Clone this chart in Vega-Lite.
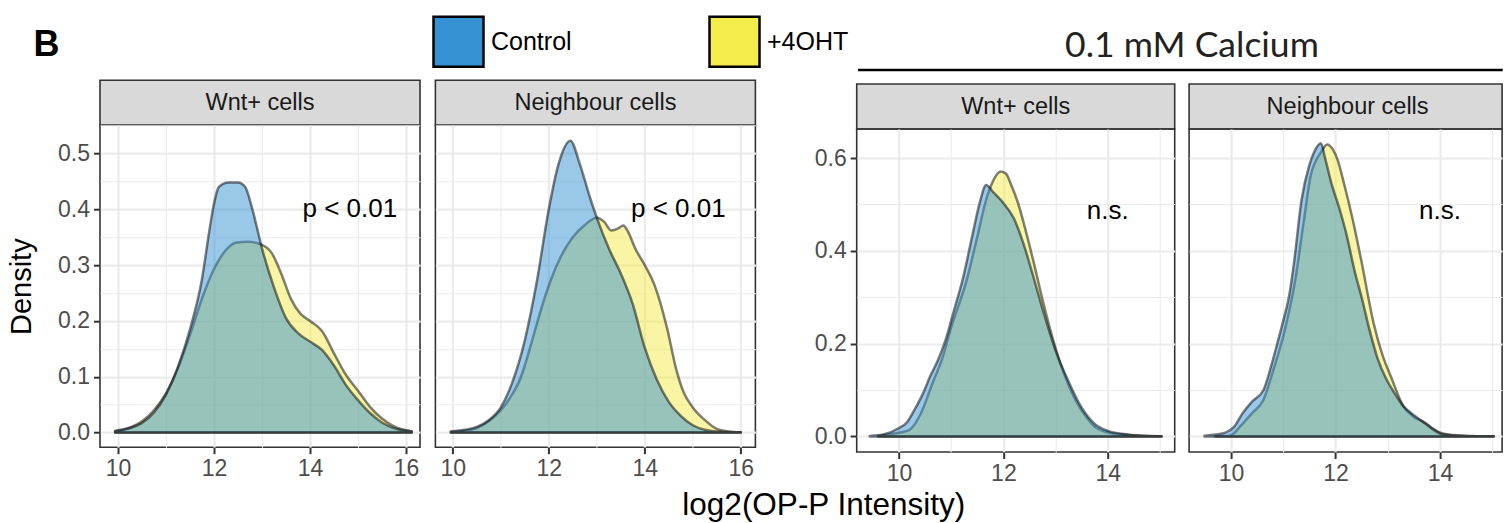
{
"$schema":"https://vega.github.io/schema/vega-lite/v6.json",
"autosize":{"type":"pad"},
"padding":{"left":6,"top":15,"right":0,"bottom":0},
"background":"white",
"title":{"text":"log2(OP-P Intensity)","orient":"bottom","anchor":"middle","frame":"bounds","dx":68.5,"offset":4,"fontSize":31.5,"fontWeight":"normal","font":"Liberation Sans","color":"black"},
"datasets":{
"dens":[
{"panel":"p1","cond":"Control","x":9.94,"y":0.003},{"panel":"p1","cond":"Control","x":10.25,"y":0.008},{"panel":"p1","cond":"Control","x":10.5,"y":0.017},{"panel":"p1","cond":"Control","x":10.75,"y":0.036},{"panel":"p1","cond":"Control","x":11.0,"y":0.068},{"panel":"p1","cond":"Control","x":11.25,"y":0.118},{"panel":"p1","cond":"Control","x":11.5,"y":0.185},{"panel":"p1","cond":"Control","x":11.75,"y":0.275},{"panel":"p1","cond":"Control","x":11.9,"y":0.36},{"panel":"p1","cond":"Control","x":12.0,"y":0.41},{"panel":"p1","cond":"Control","x":12.1,"y":0.44},{"panel":"p1","cond":"Control","x":12.3,"y":0.448},{"panel":"p1","cond":"Control","x":12.5,"y":0.448},{"panel":"p1","cond":"Control","x":12.65,"y":0.44},{"panel":"p1","cond":"Control","x":12.8,"y":0.4},{"panel":"p1","cond":"Control","x":13.0,"y":0.33},{"panel":"p1","cond":"Control","x":13.25,"y":0.26},{"panel":"p1","cond":"Control","x":13.5,"y":0.205},{"panel":"p1","cond":"Control","x":13.75,"y":0.178},{"panel":"p1","cond":"Control","x":14.0,"y":0.163},{"panel":"p1","cond":"Control","x":14.25,"y":0.148},{"panel":"p1","cond":"Control","x":14.5,"y":0.12},{"panel":"p1","cond":"Control","x":14.75,"y":0.085},{"panel":"p1","cond":"Control","x":15.0,"y":0.058},{"panel":"p1","cond":"Control","x":15.25,"y":0.035},{"panel":"p1","cond":"Control","x":15.5,"y":0.018},{"panel":"p1","cond":"Control","x":15.75,"y":0.008},{"panel":"p1","cond":"Control","x":16.0,"y":0.003},{"panel":"p1","cond":"Control","x":16.12,"y":0.002},
{"panel":"p1","cond":"+4OHT","x":9.94,"y":0.002},{"panel":"p1","cond":"+4OHT","x":10.25,"y":0.009},{"panel":"p1","cond":"+4OHT","x":10.5,"y":0.02},{"panel":"p1","cond":"+4OHT","x":10.75,"y":0.04},{"panel":"p1","cond":"+4OHT","x":11.0,"y":0.07},{"panel":"p1","cond":"+4OHT","x":11.25,"y":0.115},{"panel":"p1","cond":"+4OHT","x":11.5,"y":0.175},{"panel":"p1","cond":"+4OHT","x":11.75,"y":0.24},{"panel":"p1","cond":"+4OHT","x":12.0,"y":0.293},{"panel":"p1","cond":"+4OHT","x":12.25,"y":0.327},{"panel":"p1","cond":"+4OHT","x":12.45,"y":0.34},{"panel":"p1","cond":"+4OHT","x":12.7,"y":0.342},{"panel":"p1","cond":"+4OHT","x":12.95,"y":0.338},{"panel":"p1","cond":"+4OHT","x":13.2,"y":0.322},{"panel":"p1","cond":"+4OHT","x":13.4,"y":0.285},{"panel":"p1","cond":"+4OHT","x":13.6,"y":0.24},{"panel":"p1","cond":"+4OHT","x":13.8,"y":0.213},{"panel":"p1","cond":"+4OHT","x":14.0,"y":0.2},{"panel":"p1","cond":"+4OHT","x":14.25,"y":0.182},{"panel":"p1","cond":"+4OHT","x":14.5,"y":0.142},{"panel":"p1","cond":"+4OHT","x":14.75,"y":0.103},{"panel":"p1","cond":"+4OHT","x":15.0,"y":0.075},{"panel":"p1","cond":"+4OHT","x":15.25,"y":0.046},{"panel":"p1","cond":"+4OHT","x":15.5,"y":0.025},{"panel":"p1","cond":"+4OHT","x":15.75,"y":0.011},{"panel":"p1","cond":"+4OHT","x":16.0,"y":0.004},{"panel":"p1","cond":"+4OHT","x":16.12,"y":0.002},
{"panel":"p2","cond":"Control","x":9.96,"y":0.002},{"panel":"p2","cond":"Control","x":10.25,"y":0.005},{"panel":"p2","cond":"Control","x":10.5,"y":0.01},{"panel":"p2","cond":"Control","x":10.75,"y":0.022},{"panel":"p2","cond":"Control","x":11.0,"y":0.045},{"panel":"p2","cond":"Control","x":11.25,"y":0.092},{"panel":"p2","cond":"Control","x":11.5,"y":0.165},{"panel":"p2","cond":"Control","x":11.75,"y":0.27},{"panel":"p2","cond":"Control","x":12.0,"y":0.4},{"panel":"p2","cond":"Control","x":12.2,"y":0.48},{"panel":"p2","cond":"Control","x":12.45,"y":0.523},{"panel":"p2","cond":"Control","x":12.65,"y":0.48},{"panel":"p2","cond":"Control","x":12.87,"y":0.418},{"panel":"p2","cond":"Control","x":13.0,"y":0.385},{"panel":"p2","cond":"Control","x":13.25,"y":0.33},{"panel":"p2","cond":"Control","x":13.5,"y":0.285},{"panel":"p2","cond":"Control","x":13.75,"y":0.23},{"panel":"p2","cond":"Control","x":14.0,"y":0.152},{"panel":"p2","cond":"Control","x":14.25,"y":0.095},{"panel":"p2","cond":"Control","x":14.5,"y":0.055},{"panel":"p2","cond":"Control","x":14.75,"y":0.03},{"panel":"p2","cond":"Control","x":15.0,"y":0.013},{"panel":"p2","cond":"Control","x":15.25,"y":0.005},{"panel":"p2","cond":"Control","x":15.5,"y":0.002},{"panel":"p2","cond":"Control","x":16.0,"y":0.0005},
{"panel":"p2","cond":"+4OHT","x":9.96,"y":0.001},{"panel":"p2","cond":"+4OHT","x":10.25,"y":0.003},{"panel":"p2","cond":"+4OHT","x":10.5,"y":0.008},{"panel":"p2","cond":"+4OHT","x":10.75,"y":0.02},{"panel":"p2","cond":"+4OHT","x":11.0,"y":0.04},{"panel":"p2","cond":"+4OHT","x":11.25,"y":0.07},{"panel":"p2","cond":"+4OHT","x":11.4,"y":0.095},{"panel":"p2","cond":"+4OHT","x":11.5,"y":0.12},{"panel":"p2","cond":"+4OHT","x":11.68,"y":0.173},{"panel":"p2","cond":"+4OHT","x":11.82,"y":0.215},{"panel":"p2","cond":"+4OHT","x":12.05,"y":0.275},{"panel":"p2","cond":"+4OHT","x":12.25,"y":0.315},{"panel":"p2","cond":"+4OHT","x":12.5,"y":0.35},{"panel":"p2","cond":"+4OHT","x":12.75,"y":0.372},{"panel":"p2","cond":"+4OHT","x":13.0,"y":0.385},{"panel":"p2","cond":"+4OHT","x":13.15,"y":0.378},{"panel":"p2","cond":"+4OHT","x":13.3,"y":0.362},{"panel":"p2","cond":"+4OHT","x":13.45,"y":0.366},{"panel":"p2","cond":"+4OHT","x":13.55,"y":0.371},{"panel":"p2","cond":"+4OHT","x":13.65,"y":0.36},{"panel":"p2","cond":"+4OHT","x":13.8,"y":0.33},{"panel":"p2","cond":"+4OHT","x":14.0,"y":0.3},{"panel":"p2","cond":"+4OHT","x":14.2,"y":0.265},{"panel":"p2","cond":"+4OHT","x":14.47,"y":0.185},{"panel":"p2","cond":"+4OHT","x":14.65,"y":0.115},{"panel":"p2","cond":"+4OHT","x":14.81,"y":0.072},{"panel":"p2","cond":"+4OHT","x":15.0,"y":0.045},{"panel":"p2","cond":"+4OHT","x":15.23,"y":0.024},{"panel":"p2","cond":"+4OHT","x":15.51,"y":0.006},{"panel":"p2","cond":"+4OHT","x":15.75,"y":0.002},{"panel":"p2","cond":"+4OHT","x":16.0,"y":0.0005},
{"panel":"p3","cond":"Control","x":9.44,"y":0.001},{"panel":"p3","cond":"Control","x":9.7,"y":0.004},{"panel":"p3","cond":"Control","x":10.0,"y":0.018},{"panel":"p3","cond":"Control","x":10.15,"y":0.03},{"panel":"p3","cond":"Control","x":10.3,"y":0.058},{"panel":"p3","cond":"Control","x":10.45,"y":0.09},{"panel":"p3","cond":"Control","x":10.6,"y":0.13},{"panel":"p3","cond":"Control","x":10.75,"y":0.165},{"panel":"p3","cond":"Control","x":10.9,"y":0.21},{"panel":"p3","cond":"Control","x":11.05,"y":0.27},{"panel":"p3","cond":"Control","x":11.22,"y":0.338},{"panel":"p3","cond":"Control","x":11.4,"y":0.43},{"panel":"p3","cond":"Control","x":11.55,"y":0.505},{"panel":"p3","cond":"Control","x":11.67,"y":0.542},{"panel":"p3","cond":"Control","x":11.8,"y":0.527},{"panel":"p3","cond":"Control","x":12.0,"y":0.503},{"panel":"p3","cond":"Control","x":12.2,"y":0.47},{"panel":"p3","cond":"Control","x":12.4,"y":0.41},{"panel":"p3","cond":"Control","x":12.56,"y":0.35},{"panel":"p3","cond":"Control","x":12.75,"y":0.275},{"panel":"p3","cond":"Control","x":13.0,"y":0.185},{"panel":"p3","cond":"Control","x":13.25,"y":0.118},{"panel":"p3","cond":"Control","x":13.5,"y":0.062},{"panel":"p3","cond":"Control","x":13.75,"y":0.027},{"panel":"p3","cond":"Control","x":14.0,"y":0.012},{"panel":"p3","cond":"Control","x":14.25,"y":0.006},{"panel":"p3","cond":"Control","x":14.5,"y":0.002},{"panel":"p3","cond":"Control","x":15.03,"y":0.0003},
{"panel":"p3","cond":"+4OHT","x":9.6,"y":0.001},{"panel":"p3","cond":"+4OHT","x":9.8,"y":0.004},{"panel":"p3","cond":"+4OHT","x":10.0,"y":0.008},{"panel":"p3","cond":"+4OHT","x":10.2,"y":0.014},{"panel":"p3","cond":"+4OHT","x":10.4,"y":0.045},{"panel":"p3","cond":"+4OHT","x":10.66,"y":0.12},{"panel":"p3","cond":"+4OHT","x":10.82,"y":0.165},{"panel":"p3","cond":"+4OHT","x":11.0,"y":0.235},{"panel":"p3","cond":"+4OHT","x":11.3,"y":0.338},{"panel":"p3","cond":"+4OHT","x":11.5,"y":0.43},{"panel":"p3","cond":"+4OHT","x":11.67,"y":0.51},{"panel":"p3","cond":"+4OHT","x":11.8,"y":0.55},{"panel":"p3","cond":"+4OHT","x":11.95,"y":0.571},{"panel":"p3","cond":"+4OHT","x":12.05,"y":0.566},{"panel":"p3","cond":"+4OHT","x":12.16,"y":0.539},{"panel":"p3","cond":"+4OHT","x":12.28,"y":0.503},{"panel":"p3","cond":"+4OHT","x":12.44,"y":0.438},{"panel":"p3","cond":"+4OHT","x":12.6,"y":0.366},{"panel":"p3","cond":"+4OHT","x":12.76,"y":0.29},{"panel":"p3","cond":"+4OHT","x":13.0,"y":0.19},{"panel":"p3","cond":"+4OHT","x":13.09,"y":0.158},{"panel":"p3","cond":"+4OHT","x":13.25,"y":0.11},{"panel":"p3","cond":"+4OHT","x":13.41,"y":0.072},{"panel":"p3","cond":"+4OHT","x":13.6,"y":0.04},{"panel":"p3","cond":"+4OHT","x":13.74,"y":0.022},{"panel":"p3","cond":"+4OHT","x":14.06,"y":0.007},{"panel":"p3","cond":"+4OHT","x":14.3,"y":0.004},{"panel":"p3","cond":"+4OHT","x":14.6,"y":0.002},{"panel":"p3","cond":"+4OHT","x":15.03,"y":0.0003},
{"panel":"p4","cond":"Control","x":9.49,"y":0.0015},{"panel":"p4","cond":"Control","x":9.7,"y":0.004},{"panel":"p4","cond":"Control","x":9.89,"y":0.008},{"panel":"p4","cond":"Control","x":10.05,"y":0.02},{"panel":"p4","cond":"Control","x":10.22,"y":0.05},{"panel":"p4","cond":"Control","x":10.4,"y":0.075},{"panel":"p4","cond":"Control","x":10.62,"y":0.1},{"panel":"p4","cond":"Control","x":10.75,"y":0.145},{"panel":"p4","cond":"Control","x":10.87,"y":0.194},{"panel":"p4","cond":"Control","x":11.0,"y":0.25},{"panel":"p4","cond":"Control","x":11.11,"y":0.302},{"panel":"p4","cond":"Control","x":11.2,"y":0.37},{"panel":"p4","cond":"Control","x":11.35,"y":0.51},{"panel":"p4","cond":"Control","x":11.5,"y":0.585},{"panel":"p4","cond":"Control","x":11.6,"y":0.615},{"panel":"p4","cond":"Control","x":11.72,"y":0.632},{"panel":"p4","cond":"Control","x":11.8,"y":0.6},{"panel":"p4","cond":"Control","x":11.92,"y":0.546},{"panel":"p4","cond":"Control","x":12.08,"y":0.489},{"panel":"p4","cond":"Control","x":12.2,"y":0.44},{"panel":"p4","cond":"Control","x":12.38,"y":0.35},{"panel":"p4","cond":"Control","x":12.5,"y":0.3},{"panel":"p4","cond":"Control","x":12.65,"y":0.23},{"panel":"p4","cond":"Control","x":12.8,"y":0.17},{"panel":"p4","cond":"Control","x":12.98,"y":0.122},{"panel":"p4","cond":"Control","x":13.15,"y":0.09},{"panel":"p4","cond":"Control","x":13.3,"y":0.065},{"panel":"p4","cond":"Control","x":13.45,"y":0.05},{"panel":"p4","cond":"Control","x":13.62,"y":0.036},{"panel":"p4","cond":"Control","x":13.75,"y":0.025},{"panel":"p4","cond":"Control","x":13.87,"y":0.015},{"panel":"p4","cond":"Control","x":14.03,"y":0.005},{"panel":"p4","cond":"Control","x":14.25,"y":0.002},{"panel":"p4","cond":"Control","x":14.5,"y":0.001},{"panel":"p4","cond":"Control","x":15.03,"y":0.0002},
{"panel":"p4","cond":"+4OHT","x":9.7,"y":0.0005},{"panel":"p4","cond":"+4OHT","x":9.97,"y":0.0015},{"panel":"p4","cond":"+4OHT","x":10.2,"y":0.025},{"panel":"p4","cond":"+4OHT","x":10.4,"y":0.05},{"panel":"p4","cond":"+4OHT","x":10.62,"y":0.079},{"panel":"p4","cond":"+4OHT","x":10.8,"y":0.14},{"panel":"p4","cond":"+4OHT","x":11.03,"y":0.23},{"panel":"p4","cond":"+4OHT","x":11.23,"y":0.338},{"panel":"p4","cond":"+4OHT","x":11.4,"y":0.47},{"panel":"p4","cond":"+4OHT","x":11.52,"y":0.56},{"panel":"p4","cond":"+4OHT","x":11.72,"y":0.612},{"panel":"p4","cond":"+4OHT","x":11.84,"y":0.629},{"panel":"p4","cond":"+4OHT","x":11.95,"y":0.618},{"panel":"p4","cond":"+4OHT","x":12.04,"y":0.596},{"panel":"p4","cond":"+4OHT","x":12.16,"y":0.546},{"panel":"p4","cond":"+4OHT","x":12.33,"y":0.467},{"panel":"p4","cond":"+4OHT","x":12.49,"y":0.381},{"panel":"p4","cond":"+4OHT","x":12.73,"y":0.244},{"panel":"p4","cond":"+4OHT","x":12.9,"y":0.175},{"panel":"p4","cond":"+4OHT","x":13.06,"y":0.129},{"panel":"p4","cond":"+4OHT","x":13.3,"y":0.065},{"panel":"p4","cond":"+4OHT","x":13.5,"y":0.042},{"panel":"p4","cond":"+4OHT","x":13.71,"y":0.03},{"panel":"p4","cond":"+4OHT","x":13.85,"y":0.018},{"panel":"p4","cond":"+4OHT","x":14.03,"y":0.007},{"panel":"p4","cond":"+4OHT","x":14.25,"y":0.003},{"panel":"p4","cond":"+4OHT","x":14.5,"y":0.001},{"panel":"p4","cond":"+4OHT","x":15.03,"y":0.0002}
],
"ann":[
{"panel":"p1","x":14.83,"y":0.4,"label":"p < 0.01"},
{"panel":"p2","x":14.7,"y":0.4,"label":"p < 0.01"},
{"panel":"p3","x":14.0,"y":0.485,"label":"n.s."},
{"panel":"p4","x":14.0,"y":0.485,"label":"n.s."}
]
},
"spacing":55.7,
"resolve":{"scale":{"x":"independent","y":"independent"}},
"hconcat":[
{
"spacing":12.2,
"resolve":{"scale":{"x":"independent","y":"independent"}},
"vconcat":[
{"width":1,"height":40,"view":{"stroke":null},
 "data":{"values":[{"tag":"B"}]},
 "mark":{"type":"text","fontSize":36,"fontWeight":"bold","align":"center","baseline":"middle","dx":-54,"dy":-2,"color":"black"},
 "encoding":{"text":{"field":"tag"}}},
{"spacing":13.4,
 "resolve":{"scale":{"x":"independent","y":"independent"}},
 "hconcat":[
 {"bounds":"flush","spacing":0,"resolve":{"scale":{"x":"independent","y":"independent"}},
  "vconcat":[
  {"width":320,"height":45,"view":{"fill":"#d9d9d9","stroke":"#333333","strokeWidth":1.6},
   "data":{"values":[{"label":"Wnt+ cells"}]},
   "mark":{"type":"text","fontSize":23.5,"color":"#1a1a1a","baseline":"middle"},
   "encoding":{"text":{"field":"label"}}},
  {"width":320,"height":322,
   "encoding":{
    "x":{"field":"x","type":"quantitative","scale":{"domain":[9.625,16.292],"nice":false,"zero":false},
      "axis":{"values":[10,11,12,13,14,15,16],"format":"d","title":null,
        "labelExpr":"datum.value % 2 == 0 ? datum.label : ''",
        "tickOpacity":{"condition":{"test":"datum.value % 2 == 0","value":1},"value":0},
        "gridWidth":{"condition":{"test":"datum.value % 2 == 0","value":2.2},"value":1.1}}},
    "y":{"field":"y","type":"quantitative","stack":null,"scale":{"domain":[-0.0263,0.5507],"nice":false,"zero":false},
      "axis":{"values":[0,0.05,0.1,0.15,0.2,0.25,0.3,0.35,0.4,0.45,0.5,0.55],"format":".1f","title":"Density","titlePadding":21,
        "labelExpr":"abs(datum.value*10-round(datum.value*10))<0.001 ? datum.label : ''",
        "tickOpacity":{"condition":{"test":"abs(datum.value*10-round(datum.value*10))<0.001","value":1},"value":0},
        "gridWidth":{"condition":{"test":"abs(datum.value*10-round(datum.value*10))<0.001","value":2.2},"value":1.1}}}
   },
   "layer":[
    {"data":{"name":"dens"},"transform":[{"filter":"datum.panel == 'p1' && datum.cond == '+4OHT'"}],
     "mark":{"type":"area","fillOpacity":0.5,"stroke":"black","strokeOpacity":0.5,"strokeWidth":2.5,"strokeJoin":"round","interpolate":"monotone"},
     "encoding":{"color":{"field":"cond","type":"nominal","scale":{"domain":["Control","+4OHT"],"range":["#3591d1","#f4ec4a"]},
       "legend":{"orient":"none","legendX":332,"legendY":-12,"direction":"horizontal","title":null,"symbolType":"square","symbolSize":2500,"symbolStrokeColor":"black","symbolStrokeWidth":2.5,"symbolOpacity":1,"labelFontSize":25,"labelColor":"black","labelOffset":6,"columnPadding":132,"padding":0,"labelLimit":300}}}},
    {"data":{"name":"dens"},"transform":[{"filter":"datum.panel == 'p1' && datum.cond == 'Control'"}],
     "mark":{"type":"area","fillOpacity":0.5,"stroke":"black","strokeOpacity":0.5,"strokeWidth":2.5,"strokeJoin":"round","interpolate":"monotone"},
     "encoding":{"color":{"field":"cond","type":"nominal"}}},
    {"data":{"name":"ann"},"transform":[{"filter":"datum.panel == 'p1'"}],
     "mark":{"type":"text","fontSize":26,"color":"black","baseline":"middle"},
     "encoding":{"text":{"field":"label"}}}
   ]}
  ]},
 {"bounds":"flush","spacing":0,"resolve":{"scale":{"x":"independent","y":"independent"}},
  "vconcat":[
  {"width":320,"height":45,"view":{"fill":"#d9d9d9","stroke":"#333333","strokeWidth":1.6},
   "data":{"values":[{"label":"Neighbour cells"}]},
   "mark":{"type":"text","fontSize":23.5,"color":"#1a1a1a","baseline":"middle"},
   "encoding":{"text":{"field":"label"}}},
  {"width":320,"height":322,
   "encoding":{
    "x":{"field":"x","type":"quantitative","scale":{"domain":[9.638,16.305],"nice":false,"zero":false},
      "axis":{"values":[10,11,12,13,14,15,16],"format":"d","title":null,
        "labelExpr":"datum.value % 2 == 0 ? datum.label : ''",
        "tickOpacity":{"condition":{"test":"datum.value % 2 == 0","value":1},"value":0},
        "gridWidth":{"condition":{"test":"datum.value % 2 == 0","value":2.2},"value":1.1}}},
    "y":{"field":"y","type":"quantitative","stack":null,"scale":{"domain":[-0.0263,0.5507],"nice":false,"zero":false},
      "axis":{"values":[0,0.05,0.1,0.15,0.2,0.25,0.3,0.35,0.4,0.45,0.5,0.55],"labels":false,"ticks":false,"title":null,
        "gridWidth":{"condition":{"test":"abs(datum.value*10-round(datum.value*10))<0.001","value":2.2},"value":1.1}}}
   },
   "layer":[
    {"data":{"name":"dens"},"transform":[{"filter":"datum.panel == 'p2' && datum.cond == '+4OHT'"}],
     "mark":{"type":"area","fillOpacity":0.5,"stroke":"black","strokeOpacity":0.5,"strokeWidth":2.5,"strokeJoin":"round","interpolate":"monotone"},
     "encoding":{"color":{"field":"cond","type":"nominal"}}},
    {"data":{"name":"dens"},"transform":[{"filter":"datum.panel == 'p2' && datum.cond == 'Control'"}],
     "mark":{"type":"area","fillOpacity":0.5,"stroke":"black","strokeOpacity":0.5,"strokeWidth":2.5,"strokeJoin":"round","interpolate":"monotone"},
     "encoding":{"color":{"field":"cond","type":"nominal"}}},
    {"data":{"name":"ann"},"transform":[{"filter":"datum.panel == 'p2'"}],
     "mark":{"type":"text","fontSize":26,"color":"black","baseline":"middle"},
     "encoding":{"text":{"field":"label"}}}
   ]}
  ]}
 ]}
]
},
{
"spacing":11,
"resolve":{"scale":{"x":"independent","y":"independent"}},
"vconcat":[
{"width":646,"height":43,"view":{"stroke":null},
 "data":{"values":[{"label":"0.1 mM Calcium"}]},
 "layer":[
  {"mark":{"type":"text","font":"Lato","fontSize":35.5,"color":"#222222","baseline":"middle","align":"center"},
   "encoding":{"text":{"field":"label"},
     "x":{"datum":0.519,"type":"quantitative","scale":{"domain":[0,1],"nice":false,"zero":false},"axis":null},
     "y":{"datum":0.55,"type":"quantitative","scale":{"domain":[0,1]},"axis":null}}},
  {"mark":{"type":"rule","color":"black","strokeWidth":2.5},
   "encoding":{"x":{"datum":0.002,"type":"quantitative","scale":{"domain":[0,1],"nice":false,"zero":false},"axis":null},
     "x2":{"datum":1},
     "y":{"datum":0,"type":"quantitative","scale":{"domain":[0,1]},"axis":null}}}
 ]},
{"spacing":12.4,
 "resolve":{"scale":{"x":"independent","y":"independent"}},
 "hconcat":[
 {"bounds":"flush","spacing":0,"resolve":{"scale":{"x":"independent","y":"independent"}},
  "vconcat":[
  {"width":318,"height":45,"view":{"fill":"#d9d9d9","stroke":"#333333","strokeWidth":1.6},
   "data":{"values":[{"label":"Wnt+ cells"}]},
   "mark":{"type":"text","fontSize":23.5,"color":"#1a1a1a","baseline":"middle"},
   "encoding":{"text":{"field":"label"}}},
  {"width":318,"height":323,
   "encoding":{
    "x":{"field":"x","type":"quantitative","scale":{"domain":[9.19,15.282],"nice":false,"zero":false},
      "axis":{"values":[10,11,12,13,14,15],"format":"d","title":null,
        "labelExpr":"datum.value % 2 == 0 ? datum.label : ''",
        "tickOpacity":{"condition":{"test":"datum.value % 2 == 0","value":1},"value":0},
        "gridWidth":{"condition":{"test":"datum.value % 2 == 0","value":2.2},"value":1.1}}},
    "y":{"field":"y","type":"quantitative","stack":null,"scale":{"domain":[-0.0336,0.6625],"nice":false,"zero":false},
      "axis":{"values":[0,0.1,0.2,0.3,0.4,0.5,0.6],"format":".1f","title":null,
        "labelExpr":"abs(datum.value*5-round(datum.value*5))<0.001 ? datum.label : ''",
        "tickOpacity":{"condition":{"test":"abs(datum.value*5-round(datum.value*5))<0.001","value":1},"value":0},
        "gridWidth":{"condition":{"test":"abs(datum.value*5-round(datum.value*5))<0.001","value":2.2},"value":1.1}}}
   },
   "layer":[
    {"data":{"name":"dens"},"transform":[{"filter":"datum.panel == 'p3' && datum.cond == '+4OHT'"}],
     "mark":{"type":"area","fillOpacity":0.5,"stroke":"black","strokeOpacity":0.5,"strokeWidth":2.5,"strokeJoin":"round","interpolate":"monotone"},
     "encoding":{"color":{"field":"cond","type":"nominal"}}},
    {"data":{"name":"dens"},"transform":[{"filter":"datum.panel == 'p3' && datum.cond == 'Control'"}],
     "mark":{"type":"area","fillOpacity":0.5,"stroke":"black","strokeOpacity":0.5,"strokeWidth":2.5,"strokeJoin":"round","interpolate":"monotone"},
     "encoding":{"color":{"field":"cond","type":"nominal"}}},
    {"data":{"name":"ann"},"transform":[{"filter":"datum.panel == 'p3'"}],
     "mark":{"type":"text","fontSize":26,"color":"black","baseline":"middle"},
     "encoding":{"text":{"field":"label"}}}
   ]}
  ]},
 {"bounds":"flush","spacing":0,"resolve":{"scale":{"x":"independent","y":"independent"}},
  "vconcat":[
  {"width":313,"height":45,"view":{"fill":"#d9d9d9","stroke":"#333333","strokeWidth":1.6},
   "data":{"values":[{"label":"Neighbour cells"}]},
   "mark":{"type":"text","fontSize":23.5,"color":"#1a1a1a","baseline":"middle","dx":2},
   "encoding":{"text":{"field":"label"}}},
  {"width":313,"height":323,
   "encoding":{
    "x":{"field":"x","type":"quantitative","scale":{"domain":[9.195,15.191],"nice":false,"zero":false},
      "axis":{"values":[10,11,12,13,14,15],"format":"d","title":null,
        "labelExpr":"datum.value % 2 == 0 ? datum.label : ''",
        "tickOpacity":{"condition":{"test":"datum.value % 2 == 0","value":1},"value":0},
        "gridWidth":{"condition":{"test":"datum.value % 2 == 0","value":2.2},"value":1.1}}},
    "y":{"field":"y","type":"quantitative","stack":null,"scale":{"domain":[-0.0336,0.6625],"nice":false,"zero":false},
      "axis":{"values":[0,0.1,0.2,0.3,0.4,0.5,0.6],"labels":false,"ticks":false,"title":null,
        "gridWidth":{"condition":{"test":"abs(datum.value*5-round(datum.value*5))<0.001","value":2.2},"value":1.1}}}
   },
   "layer":[
    {"data":{"name":"dens"},"transform":[{"filter":"datum.panel == 'p4' && datum.cond == '+4OHT'"}],
     "mark":{"type":"area","fillOpacity":0.5,"stroke":"black","strokeOpacity":0.5,"strokeWidth":2.5,"strokeJoin":"round","interpolate":"monotone"},
     "encoding":{"color":{"field":"cond","type":"nominal"}}},
    {"data":{"name":"dens"},"transform":[{"filter":"datum.panel == 'p4' && datum.cond == 'Control'"}],
     "mark":{"type":"area","fillOpacity":0.5,"stroke":"black","strokeOpacity":0.5,"strokeWidth":2.5,"strokeJoin":"round","interpolate":"monotone"},
     "encoding":{"color":{"field":"cond","type":"nominal"}}},
    {"data":{"name":"ann"},"transform":[{"filter":"datum.panel == 'p4'"}],
     "mark":{"type":"text","fontSize":26,"color":"black","baseline":"middle"},
     "encoding":{"text":{"field":"label"}}}
   ]}
  ]}
 ]}
]
}
],
"config":{
 "font":"Liberation Sans",
 "view":{"stroke":"#333333","strokeWidth":1.6},
 "axis":{"domain":false,"tickColor":"#333333","tickWidth":2,"tickSize":6.5,"labelColor":"#4d4d4d","labelFontSize":23,"labelFont":"Liberation Sans","labelPadding":4,"labelOverlap":false,"labelFlush":false,"gridColor":"#ebebeb","titleFont":"Liberation Sans","titleFontSize":29,"titleFontWeight":"normal","titleColor":"black"},
 "legend":{"labelFont":"Liberation Sans"}
}
}
